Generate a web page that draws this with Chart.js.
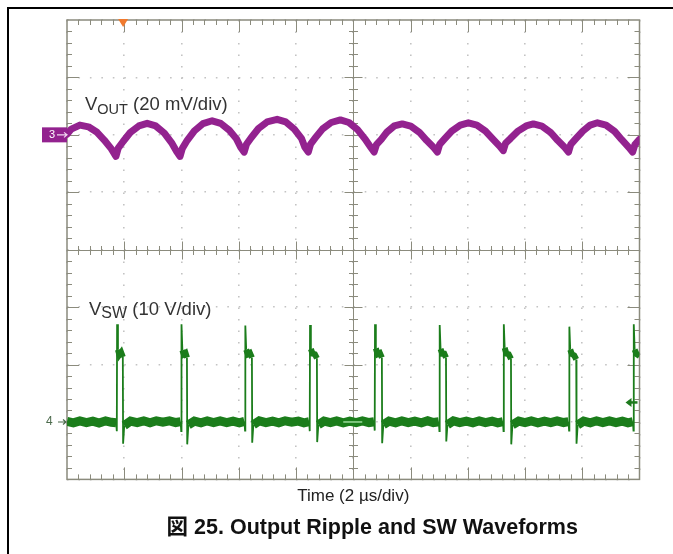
<!DOCTYPE html>
<html>
<head>
<meta charset="utf-8">
<script src="https://cdn.jsdelivr.net/npm/chart.js@4.4.1/dist/chart.umd.min.js"></script>
<style>
html,body{margin:0;padding:0;background:#fff;}
canvas{display:block;}
</style>
</head>
<body>
<canvas id="c" width="673" height="554"></canvas>
<script>
// ---------------- data ----------------
// Channel 3: output ripple, AC coupled, mV relative to the channel-3 ground marker
const vOutTimeUs = [
  0.00, 0.15, 0.45, 0.75, 1.05, 1.30, 1.55, 1.71,
  1.79, 1.96, 2.21, 2.51, 2.80, 3.10, 3.40, 3.65, 3.83, 3.95,
  4.03, 4.20, 4.45, 4.75, 5.07, 5.37, 5.67, 5.92, 6.07, 6.19,
  6.27, 6.44, 6.69, 6.99, 7.34, 7.64, 7.94, 8.19, 8.31, 8.43,
  8.51, 8.68, 8.93, 9.23, 9.55, 9.85, 10.15, 10.40, 10.61, 10.73,
  10.81, 10.98, 11.18, 11.43, 11.71, 12.01, 12.31, 12.56, 12.82, 12.94,
  13.02, 13.19, 13.44, 13.74, 14.02, 14.32, 14.62, 14.87, 15.12, 15.24,
  15.32, 15.49, 15.74, 16.04, 16.29, 16.59, 16.89, 17.14, 17.40, 17.52,
  17.60, 17.77, 18.02, 18.28, 18.53, 18.83, 19.13, 19.38, 19.64, 19.76,
  19.84, 20.00
];
const vOutMv = [
  0.2, 2.0, 3.4, 2.8, 0.9, -1.8, -4.9, -7.5,
  -4.6, -2.3, 0.8, 3.1, 4.0, 3.1, 0.6, -2.7, -5.8, -7.5,
  -4.7, -1.9, 1.4, 3.9, 4.9, 4.0, 1.6, -1.4, -4.4, -6.0,
  -3.3, -0.9, 2.2, 4.5, 5.4, 4.5, 2.0, -1.2, -4.3, -6.0,
  -3.2, -1.0, 2.1, 4.3, 5.2, 4.3, 1.8, -1.3, -4.3, -6.0,
  -3.4, -1.6, 1.0, 3.1, 3.8, 3.0, 0.9, -1.9, -4.5, -6.0,
  -3.3, -1.4, 1.3, 3.4, 4.2, 3.4, 1.3, -1.4, -4.0, -5.5,
  -2.9, -1.3, 1.2, 3.1, 3.8, 3.0, 0.9, -1.9, -4.5, -6.0,
  -3.3, -1.4, 1.3, 3.4, 4.2, 3.4, 1.2, -1.7, -4.5, -6.0,
  -3.4, -1.6
];

// Channel 4: switch node, volts relative to the channel-4 ground marker
const vswTimeUs = [
  0.00, 0.22, 0.45, 0.68, 0.90, 1.12, 1.35, 1.55, 1.72,
  1.74, 1.75, 1.78, 1.83, 1.89, 1.95, 1.96, 2.00,
  2.22, 2.45, 2.68, 2.90, 3.12, 3.35, 3.58, 3.80, 3.97,
  3.99, 4.00, 4.03, 4.08, 4.14, 4.19, 4.20, 4.24,
  4.45, 4.68, 4.90, 5.12, 5.35, 5.58, 5.80, 6.02, 6.20,
  6.22, 6.23, 6.26, 6.32, 6.39, 6.46, 6.47, 6.51,
  6.72, 6.95, 7.18, 7.40, 7.62, 7.85, 8.08, 8.28, 8.46,
  8.48, 8.49, 8.52, 8.58, 8.66, 8.73, 8.74, 8.78,
  8.98, 9.20, 9.42, 9.65, 9.88, 10.10, 10.32, 10.55, 10.73,
  10.75, 10.76, 10.79, 10.85, 10.93, 11.00, 11.01, 11.05,
  11.25, 11.48, 11.70, 11.92, 12.15, 12.38, 12.60, 12.80, 12.99,
  13.01, 13.02, 13.05, 13.11, 13.18, 13.24, 13.25, 13.29,
  13.50, 13.72, 13.95, 14.18, 14.40, 14.62, 14.85, 15.05, 15.23,
  15.25, 15.26, 15.29, 15.35, 15.43, 15.51, 15.52, 15.56,
  15.78, 16.00, 16.22, 16.45, 16.68, 16.90, 17.12, 17.35, 17.52,
  17.54, 17.55, 17.58, 17.64, 17.72, 17.79, 17.80, 17.84,
  18.05, 18.28, 18.50, 18.72, 18.95, 19.18, 19.40, 19.60, 19.77,
  19.79, 19.80, 19.83, 19.90, 20.00
];
const vswVolts = [
  0.10, -0.15, 0.20, -0.10, 0.15, -0.20, 0.20, -0.05, -0.15,
  -1.6, 17.0, 12.6, 11.7, 12.1, 11.3, -3.8, -0.6,
  0.15, -0.10, 0.20, -0.15, 0.20, -0.05, 0.20, -0.10, 0.05,
  -1.6, 17.0, 12.5, 11.8, 12.0, 11.2, -3.9, -0.5,
  0.15, -0.15, 0.20, -0.10, 0.20, -0.10, 0.15, -0.15, 0.10,
  -1.5, 16.8, 12.6, 11.8, 12.0, 11.2, -3.6, -0.5,
  0.20, -0.10, 0.15, -0.15, 0.20, -0.05, 0.15, -0.15, 0.05,
  -1.6, 16.9, 12.7, 11.9, 11.8, 11.1, -3.5, -0.5,
  0.15, -0.10, 0.20, -0.15, 0.15, -0.10, 0.20, -0.10, 0.05,
  -1.5, 17.0, 12.8, 11.8, 12.0, 11.2, -3.7, -0.5,
  0.15, -0.15, 0.20, -0.10, 0.15, -0.15, 0.20, -0.10, 0.05,
  -1.6, 16.9, 12.7, 11.9, 11.9, 11.2, -3.4, -0.5,
  0.20, -0.10, 0.15, -0.15, 0.20, -0.10, 0.15, -0.15, 0.05,
  -1.6, 17.0, 12.9, 11.9, 11.8, 11.0, -3.9, -0.5,
  0.15, -0.10, 0.20, -0.15, 0.15, -0.10, 0.20, -0.10, 0.05,
  -1.5, 16.6, 12.6, 11.8, 11.6, 10.9, -3.8, -0.5,
  0.15, -0.15, 0.20, -0.10, 0.20, -0.10, 0.15, -0.15, 0.05,
  -1.5, 17.0, 12.6, 11.8, 11.5
];

// Screen settings: 10 div x 2 us, 8 div x 20 mV (ch3), 8 div x 10 V (ch4)
const timeRangeUs = [0, 20];
const timeDivUs = 2;
const vOutRangeMv = [-120, 40];
const vOutDivMv = 20;
const vswRangeV = [-10, 70];
const triggerTimeUs = 1.96;
const triggerLevelV = 3.4;

const voutLabel = ['V', 'OUT', ' (20 mV/div)'];
const vswLabel = ['V', 'SW', ' (10 V/div)'];
const xTitle = 'Time (2 µs/div)';
const caption = '図 25. Output Ripple and SW Waveforms';
// -----------------------------------------------------------------------

const FONT = '"Liberation Sans", Arial, "Noto Sans CJK JP", sans-serif';
const GRAT = '#8b8b7d';

function drawSubLabel(ctx, x, y, parts, big, small, drop) {
  ctx.font = big + 'px ' + FONT;
  ctx.fillText(parts[0], x, y);
  x += ctx.measureText(parts[0]).width;
  ctx.font = small + 'px ' + FONT;
  ctx.fillText(parts[1], x, y + drop);
  x += ctx.measureText(parts[1]).width;
  ctx.font = big + 'px ' + FONT;
  ctx.fillText(parts[2], x, y);
}

const scopeDecor = {
  id: 'scopeDecor',
  afterLayout(chart) {
    if (chart.titleBlock) { chart.titleBlock.left += 19; chart.titleBlock.right += 19; }
  },
  beforeDraw(chart) {
    const ctx = chart.ctx;
    ctx.save();
    ctx.strokeStyle = '#000';
    ctx.lineWidth = 2;
    ctx.beginPath();
    ctx.moveTo(8, chart.height);
    ctx.lineTo(8, 8);
    ctx.lineTo(chart.width, 8);
    ctx.stroke();
    ctx.restore();
  },
  beforeDatasetsDraw(chart) {
    const {ctx, chartArea: a, scales: {x, yV}} = chart;
    const cx = Math.round(x.getPixelForValue((timeRangeUs[0] + timeRangeUs[1]) / 2)) + 0.5;
    const cy = Math.round(yV.getPixelForValue((vOutRangeMv[0] + vOutRangeMv[1]) / 2)) + 0.5;
    ctx.save();
    ctx.strokeStyle = GRAT;
    ctx.lineWidth = 1;
    ctx.beginPath();
    ctx.moveTo(a.left, cy); ctx.lineTo(a.right, cy);
    ctx.moveTo(cx, a.top); ctx.lineTo(cx, a.bottom);
    const minorX = timeDivUs / 5;
    for (let i = 1; i < 50; i++) {
      const px = Math.round(x.getPixelForValue(timeRangeUs[0] + i * minorX)) + 0.5;
      const major = i % 5 === 0;
      const L = major ? 12 : 5, c = major ? 9 : 4.5;
      ctx.moveTo(px, a.top); ctx.lineTo(px, a.top + L);
      ctx.moveTo(px, a.bottom); ctx.lineTo(px, a.bottom - L);
      ctx.moveTo(px, cy - c); ctx.lineTo(px, cy + c);
    }
    const minorY = vOutDivMv / 5;
    for (let j = 1; j < 40; j++) {
      const py = Math.round(yV.getPixelForValue(vOutRangeMv[0] + j * minorY)) + 0.5;
      const major = j % 5 === 0;
      const L = major ? 12 : 5, c = major ? 9 : 4.5;
      ctx.moveTo(a.left, py); ctx.lineTo(a.left + L, py);
      ctx.moveTo(a.right, py); ctx.lineTo(a.right - L, py);
      ctx.moveTo(cx - c, py); ctx.lineTo(cx + c, py);
    }
    ctx.stroke();
    ctx.lineWidth = 1.5;
    ctx.strokeRect(a.left, a.top, a.right - a.left, a.bottom - a.top);
    ctx.restore();
  },
  afterDatasetsDraw(chart) {
    const {ctx, chartArea: a, scales: {x, yV, yS}} = chart;
    ctx.save();
    // in-plot labels
    ctx.fillStyle = '#333';
    ctx.textBaseline = 'alphabetic';
    drawSubLabel(ctx, a.left + 18, a.top + 90, voutLabel, 18.5, 14.5, 4);
    drawSubLabel(ctx, a.left + 22, a.top + 295, vswLabel, 18.5, 16, 3);

    // channel 3 ground marker
    const y3 = yV.getPixelForValue(0);
    ctx.fillStyle = '#93228f';
    ctx.fillRect(42, y3 - 7.5, a.left - 42, 15);
    ctx.fillStyle = '#fff';
    ctx.font = '11px ' + FONT;
    ctx.textBaseline = 'middle';
    ctx.fillText('3', 49, y3 + 0.5);
    ctx.strokeStyle = '#f2d8f2';
    ctx.lineWidth = 1.2;
    ctx.beginPath();
    ctx.moveTo(57, y3); ctx.lineTo(a.left, y3);
    ctx.moveTo(a.left - 3, y3 - 2.5); ctx.lineTo(a.left, y3); ctx.lineTo(a.left - 3, y3 + 2.5);
    ctx.stroke();

    // channel 4 ground marker
    const y4 = yS.getPixelForValue(0);
    ctx.fillStyle = '#4d6b4d';
    ctx.font = '12px ' + FONT;
    ctx.fillText('4', 46, y4);
    ctx.strokeStyle = '#4d6b4d';
    ctx.beginPath();
    ctx.moveTo(58, y4); ctx.lineTo(a.left - 1, y4);
    ctx.moveTo(a.left - 4, y4 - 2.5); ctx.lineTo(a.left - 1, y4); ctx.lineTo(a.left - 4, y4 + 2.5);
    ctx.stroke();

    // trigger level marker (right)
    const yt = yS.getPixelForValue(triggerLevelV);
    ctx.strokeStyle = '#1d7a1d';
    ctx.fillStyle = '#1d7a1d';
    ctx.lineWidth = 2.5;
    ctx.beginPath();
    ctx.moveTo(a.right - 2, yt); ctx.lineTo(a.right - 10, yt);
    ctx.stroke();
    ctx.beginPath();
    ctx.moveTo(a.right - 14, yt); ctx.lineTo(a.right - 8, yt - 4.5); ctx.lineTo(a.right - 8, yt + 4.5);
    ctx.closePath(); ctx.fill();

    // trigger position marker (top)
    const xt = x.getPixelForValue(triggerTimeUs);
    ctx.fillStyle = '#f07a2e';
    ctx.beginPath();
    ctx.moveTo(xt - 5, a.top - 1); ctx.lineTo(xt + 5, a.top - 1); ctx.lineTo(xt, a.top + 7);
    ctx.closePath(); ctx.fill();

    // centre reference mark
    ctx.strokeStyle = 'rgba(170,230,170,0.9)';
    ctx.lineWidth = 1.5;
    const xc = x.getPixelForValue((timeRangeUs[0] + timeRangeUs[1]) / 2);
    ctx.beginPath(); ctx.moveTo(xc - 10, y4); ctx.lineTo(xc + 9, y4); ctx.stroke();
    ctx.restore();
  }
};

const dotGrid = {color: '#c3c3c3', lineWidth: 1.6, drawTicks: false};

new Chart(document.getElementById('c'), {
  type: 'line',
  data: {
    datasets: [
      {
        label: 'VOUT',
        data: vOutTimeUs.map((t, i) => ({x: t, y: vOutMv[i]})),
        yAxisID: 'yV',
        borderColor: '#93228f',
        borderWidth: 7,
        borderJoinStyle: 'round',
        borderCapStyle: 'round',
        pointRadius: 0,
        tension: 0
      },
      {
        label: 'VSW',
        data: vswTimeUs.map((t, i) => ({x: t, y: vswVolts[i]})),
        yAxisID: 'yS',
        borderColor: '#1b7d1b',
        borderWidth: 1.8,
        borderJoinStyle: 'miter',
        pointRadius: 0,
        tension: 0,
        segment: {
          borderWidth: (ctx) => {
            const p = ctx.p0.parsed.y, q = ctx.p1.parsed.y;
            if (Math.abs(p) < 1.3 && Math.abs(q) < 1.3) return 9;
            if (p > 10 && p < 13.5 && q > 10 && q < 13.5) return 6;
            return 1.8;
          }
        }
      }
    ]
  },
  options: {
    responsive: false,
    animation: false,
    devicePixelRatio: 1,
    layout: {padding: {left: 67, right: 33.5, top: 20, bottom: 13.4}},
    plugins: {
      legend: {display: false},
      tooltip: {enabled: false},
      title: {
        display: true,
        position: 'bottom',
        text: caption,
        color: '#111',
        font: {family: FONT, size: 21.5, weight: 'bold'},
        padding: {top: 8, bottom: 0}
      }
    },
    scales: {
      x: {
        type: 'linear',
        min: timeRangeUs[0], max: timeRangeUs[1],
        ticks: {display: false, stepSize: timeDivUs},
        grid: dotGrid,
        border: {display: false, dash: [1.6, 9.9]},
        title: {display: true, text: xTitle, color: '#222', font: {family: FONT, size: 17}, padding: {top: 7, bottom: 0}}
      },
      yV: {
        type: 'linear', position: 'left',
        min: vOutRangeMv[0], max: vOutRangeMv[1],
        ticks: {display: false, stepSize: vOutDivMv},
        grid: dotGrid,
        border: {display: false, dash: [1.6, 9.85]}
      },
      yS: {
        type: 'linear', position: 'left', display: false,
        min: vswRangeV[0], max: vswRangeV[1]
      }
    }
  },
  plugins: [scopeDecor]
});
</script>
</body>
</html>
